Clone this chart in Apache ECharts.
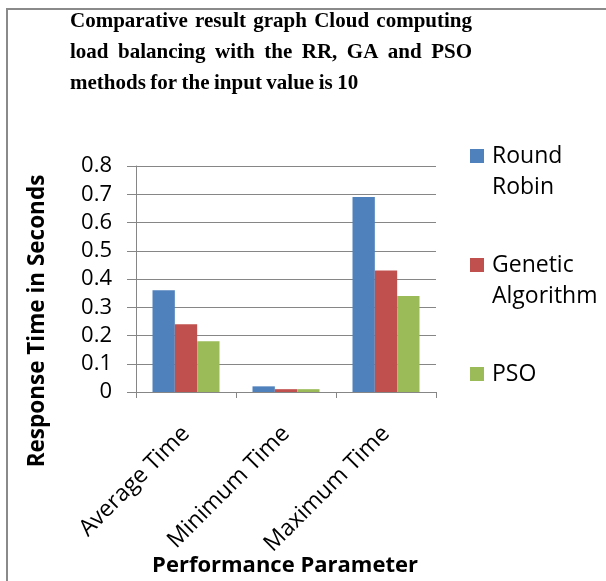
<!DOCTYPE html>
<html><head><meta charset="utf-8">
<script src="https://cdn.jsdelivr.net/npm/echarts@6/dist/echarts.min.js"></script>
<style>html,body{margin:0;padding:0;background:#fff}#c{width:606px;height:581px}</style>
</head><body><div id="c"></div>
<script>
const categories = ['Average Time', 'Minimum Time', 'Maximum Time'];
const seriesNames = ['Round Robin', 'Genetic Algorithm', 'PSO'];
const roundRobin = [0.36, 0.02, 0.69];
const geneticAlgorithm = [0.24, 0.01, 0.43];
const psoValues = [0.18, 0.01, 0.34];
const titleLines = ['Comparative result graph Cloud computing', 'load balancing with the RR, GA and PSO', 'methods for the input value is 10'];
const yAxisTitle = 'Response Time in Seconds';
const xAxisTitle = 'Performance Parameter';

const colors = ['#4F81BD', '#C0504D', '#9BBB59'];
const seriesData = [roundRobin, geneticAlgorithm, psoValues];
const SANS = '"Open Sans", "Liberation Sans", sans-serif';
const SERIF = '"Liberation Serif", "Times New Roman", serif';

const chart = echarts.init(document.getElementById('c'), null, {renderer: 'canvas'});

const mctx = document.createElement('canvas').getContext('2d');
const titleFont = 'bold 21px ' + SERIF;
mctx.font = titleFont;
const tLeft = 70, tRight = 472, tYs = [22, 53, 84];
const graphic = [];
titleLines.forEach((line, li) => {
  const words = line.split(' ');
  const widths = words.map(w => mctx.measureText(w).width);
  const total = widths.reduce((a, b) => a + b, 0);
  let gap = mctx.measureText(' ').width * 0.85;
  if (li < titleLines.length - 1) gap = (tRight - tLeft - total) / (words.length - 1);
  let x = tLeft;
  words.forEach((w, i) => {
    graphic.push({type: 'text', x: x, y: tYs[li],
      style: {text: w, font: titleFont, fill: '#000', textVerticalAlign: 'middle', textAlign: 'left'}});
    x += widths[i] + gap;
  });
});
graphic.push({type: 'line', shape: {x1: 7, y1: 9, x2: 7, y2: 581}, style: {stroke: '#8a8a8a', lineWidth: 2}});
graphic.push({type: 'line', shape: {x1: 6, y1: 9, x2: 606, y2: 9}, style: {stroke: '#8a8a8a', lineWidth: 2}});
graphic.push({type: 'text', x: 38, y: 321, rotation: Math.PI / 2,
  style: {text: yAxisTitle, font: 'bold 22.5px ' + SANS, fill: '#000', textAlign: 'center', textVerticalAlign: 'middle'}});
graphic.push({type: 'text', x: 285, y: 566,
  style: {text: xAxisTitle, font: 'bold 22px ' + SANS, fill: '#000', textAlign: 'center', textVerticalAlign: 'middle'}});
seriesNames.forEach((n, i) => {
  const y0 = 149 + i * 109;
  graphic.push({type: 'rect', shape: {x: 470, y: y0, width: 14, height: 14}, style: {fill: colors[i]}});
  graphic.push({type: 'text', x: 492, y: y0 - 8,
    style: {text: n.replace(' ', '\n'), font: '23px ' + SANS, lineHeight: 31, fill: '#000', textAlign: 'left', textVerticalAlign: 'top'}});
});

chart.setOption({
  animation: false,
  grid: {left: 136, right: 170, top: 166, bottom: 189, containLabel: false},
  xAxis: {
    type: 'category', data: categories,
    axisLine: {lineStyle: {color: '#868686', width: 1}},
    axisTick: {show: true, length: 6, alignWithLabel: false, lineStyle: {color: '#868686'}},
    axisLabel: {rotate: 45, margin: 38, color: '#000', fontFamily: SANS, fontSize: 23, interval: 0}
  },
  yAxis: {
    type: 'value', min: 0, max: 0.8, interval: 0.1,
    axisLine: {show: true, lineStyle: {color: '#868686'}},
    axisTick: {show: true, length: 9, inside: false, lineStyle: {color: '#868686'}},
    splitLine: {lineStyle: {color: '#868686', width: 1}},
    axisLabel: {margin: 24, color: '#000', fontFamily: SANS, fontSize: 22,
      formatter: v => (Math.round(v * 10) / 10).toString()}
  },
  series: seriesNames.map((n, i) => ({
    name: n, type: 'bar', data: seriesData[i], barGap: '0%', barCategoryGap: '33%',
    itemStyle: {color: colors[i]}
  })),
  graphic: graphic
});
</script></body></html>
